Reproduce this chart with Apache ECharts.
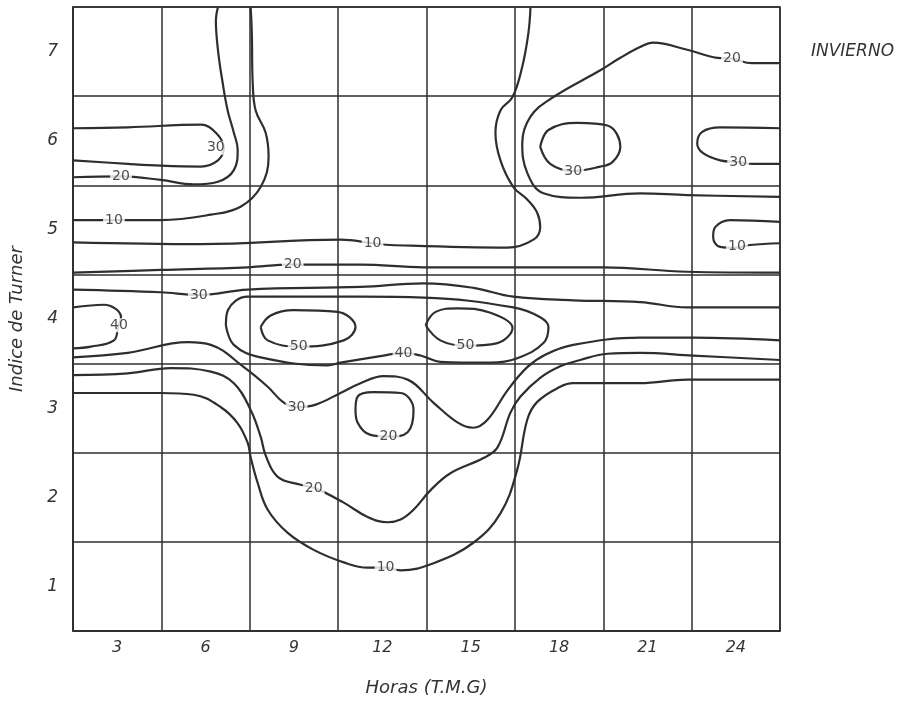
<!DOCTYPE html>
<html>
<head>
  <meta charset="utf-8">
  <script src="https://cdn.jsdelivr.net/npm/echarts/dist/echarts.min.js"></script>
</head>
<body style="margin:0;background:#fff;">
  <div id="main" style="width:921px;height:703px;"></div>
  <script type="text/javascript">
    // tick labels
    var hourLabels = ['3', '6', '9', '12', '15', '18', '21', '24'];
    var turnerLabels = ['1', '2', '3', '4', '5', '6', '7'];

    // isolines: [hour, turner index]
    var iso30TopLeft = [[1.5,6.14],[3.36,6.15],[5.84,6.18],[6.35,6.09],[6.62,5.92],[6.42,5.78],[5.84,5.71],[4.48,5.72],[3.36,5.74],[1.5,5.78]];
    var iso20TopLeft = [[1.5,5.59],[3.13,5.60],[4.48,5.56],[5.60,5.51],[6.42,5.54],[6.96,5.67],[7.09,5.90],[6.96,6.09],[6.75,6.34],[6.58,6.65],[6.42,7.02],[6.35,7.35],[6.42,7.5]];
    var iso10TopLeft = [[1.5,5.11],[2.89,5.11],[4.48,5.11],[6.18,5.17],[7.19,5.26],[7.87,5.48],[8.14,5.82],[8.04,6.09],[7.70,6.34],[7.60,6.65],[7.57,7.21],[7.53,7.5]];
    var iso10Long = [[1.5,4.86],[5.84,4.84],[10.58,4.89],[11.70,4.85],[12.28,4.83],[16.25,4.80],[17.13,4.89],[17.36,5.03],[17.26,5.19],[16.92,5.34],[16.45,5.48],[16.01,5.78],[15.84,6.09],[16.01,6.34],[16.42,6.49],[16.75,6.83],[16.96,7.21],[17.03,7.5]];
    var iso20TopRight = [[25.5,6.87],[24.55,6.87],[23.87,6.92],[23.37,6.93],[22.35,7.02],[21.19,7.10],[20.75,7.05],[20.08,6.93],[19.40,6.79],[17.81,6.49],[17.03,6.27],[16.75,5.97],[16.92,5.64],[17.47,5.41],[18.72,5.36],[20.75,5.41],[22.35,5.39],[25.5,5.37]];
    var iso30Ring18 = [[17.36,5.93],[17.64,6.12],[18.62,6.20],[19.64,6.17],[20.08,5.93],[19.81,5.76],[19.40,5.71],[18.48,5.66],[17.70,5.74],[17.36,5.93]];
    var iso30Right = [[25.5,6.14],[23.47,6.15],[22.86,6.10],[22.69,5.97],[22.89,5.86],[23.47,5.78],[24.08,5.76],[24.58,5.74],[25.5,5.74]];
    var iso10Right = [[25.5,5.09],[23.81,5.11],[23.30,5.03],[23.23,4.92],[23.47,4.81],[24.04,4.80],[24.48,4.83],[25.5,4.85]];
    var iso20Mid = [[1.5,4.52],[4.48,4.55],[7.43,4.58],[8.89,4.61],[11.26,4.61],[13.40,4.58],[16.45,4.58],[19.50,4.58],[22.35,4.53],[25.5,4.52]];
    var iso30Upper = [[1.5,4.33],[4.48,4.30],[5.74,4.27],[7.43,4.33],[11.26,4.36],[13.40,4.40],[15.09,4.35],[16.45,4.25],[18.48,4.21],[20.75,4.19],[22.35,4.13],[25.5,4.13]];
    var iso40Left = [[1.5,4.13],[2.55,4.16],[3.13,4.02],[3.03,3.91],[2.89,3.76],[2.11,3.69],[1.5,3.67]];
    var iso40Ring = [[6.69,3.93],[6.76,4.10],[7.43,4.25],[11.26,4.25],[13.40,4.24],[16.45,4.13],[17.36,4.02],[17.64,3.91],[17.47,3.73],[16.58,3.56],[15.67,3.51],[13.97,3.52],[13.30,3.59],[12.72,3.62],[12.04,3.59],[10.58,3.51],[10.14,3.48],[7.87,3.57],[6.96,3.71],[6.69,3.93]];
    var iso50West = [[7.87,3.91],[8.21,4.04],[8.99,4.10],[10.48,4.08],[11.09,3.91],[10.69,3.76],[9.16,3.69],[8.11,3.76],[7.87,3.91]];
    var iso50East = [[13.47,3.93],[13.81,4.08],[14.55,4.12],[15.67,4.07],[16.42,3.90],[15.91,3.73],[14.82,3.70],[13.97,3.76],[13.47,3.93]];
    var iso30Lower = [[1.5,3.57],[3.36,3.62],[5.40,3.74],[6.18,3.71],[7.30,3.46],[8.11,3.24],[8.62,3.07],[9.06,3.01],[9.74,3.04],[10.58,3.17],[11.26,3.28],[12.04,3.36],[12.86,3.32],[13.74,3.06],[14.55,2.84],[15.09,2.78],[15.57,2.87],[16.25,3.20],[16.92,3.46],[17.53,3.60],[18.48,3.71],[20.75,3.79],[22.55,3.79],[25.5,3.76]];
    var iso20Ring12 = [[11.09,2.98],[11.16,3.13],[11.70,3.18],[12.62,3.17],[13.06,2.98],[12.86,2.73],[12.21,2.68],[11.60,2.70],[11.16,2.84],[11.09,2.98]];
    var iso20Lower = [[1.5,3.37],[3.36,3.39],[4.82,3.45],[6.18,3.41],[6.96,3.28],[7.53,2.98],[7.87,2.68],[8.04,2.47],[8.45,2.23],[9.23,2.14],[9.74,2.10],[10.69,1.94],[11.50,1.78],[12.18,1.72],[12.62,1.75],[13.06,1.86],[13.64,2.08],[14.31,2.27],[15.43,2.44],[15.91,2.56],[16.35,2.95],[16.69,3.13],[17.36,3.34],[18.04,3.47],[18.72,3.54],[19.64,3.61],[20.75,3.62],[22.55,3.59],[25.5,3.54]];
    var iso10Lower = [[1.5,3.17],[4.48,3.17],[5.60,3.15],[6.52,3.01],[7.09,2.83],[7.43,2.61],[7.53,2.45],[7.77,2.16],[8.11,1.86],[8.79,1.60],[9.67,1.41],[10.69,1.27],[11.50,1.21],[12.11,1.21],[12.62,1.18],[13.74,1.26],[15.09,1.49],[16.01,1.82],[16.58,2.31],[16.92,2.87],[17.26,3.07],[18.04,3.24],[18.48,3.28],[20.75,3.28],[22.35,3.32],[25.5,3.32]];

    // contour labels: [hour, turner index, text]
    var contourLabels = [
      [6.35,5.92,'30'], [3.13,5.60,'20'], [2.89,5.11,'10'], [11.67,4.85,'10'],
      [23.87,6.92,'20'], [18.48,5.66,'30'], [24.08,5.76,'30'], [24.04,4.81,'10'],
      [8.96,4.61,'20'], [5.77,4.27,'30'], [3.06,3.93,'40'], [12.72,3.62,'40'],
      [9.16,3.69,'50'], [14.82,3.70,'50'], [9.09,3.01,'30'], [12.21,2.68,'20'],
      [9.67,2.10,'20'], [12.11,1.21,'10']
    ];

    var isolines = [iso30TopLeft, iso20TopLeft, iso10TopLeft, iso10Long, iso20TopRight,
      iso30Ring18, iso30Right, iso10Right, iso20Mid, iso30Upper, iso40Left, iso40Ring,
      iso50West, iso50East, iso30Lower, iso20Ring12, iso20Lower, iso10Lower];

    var ink = '#2e2e2e';
    var font = 'DejaVu Sans';

    var myChart = echarts.init(document.getElementById('main'));

    var series = isolines.map(function (pts) {
      return {
        type: 'line',
        xAxisIndex: 1,
        yAxisIndex: 1,
        data: pts,
        smooth: 0.4,
        symbol: 'none',
        silent: true,
        z: 3,
        lineStyle: { color: ink, width: 2.2 }
      };
    });
    series.push({
      type: 'scatter',
      xAxisIndex: 1,
      yAxisIndex: 1,
      data: contourLabels,
      symbolSize: 0,
      silent: true,
      z: 5,
      itemStyle: { color: 'rgba(0,0,0,0)' },
      label: {
        show: true,
        position: 'inside',
        formatter: function (p) { return p.value[2]; },
        backgroundColor: '#fff',
        padding: [0, 2],
        fontSize: 14,
        fontFamily: font,
        color: '#222'
      }
    });

    var option = {
      animation: false,
      backgroundColor: '#fff',
      title: {
        text: 'INVIERNO',
        left: 806,
        top: 38,
        textStyle: { fontSize: 17, fontStyle: 'italic', fontWeight: 'normal', fontFamily: font, color: '#333' }
      },
      grid: {
        left: 72, right: 141, top: 7, bottom: 72,
        show: true, borderColor: ink, borderWidth: 1.5
      },
      xAxis: [
        {
          type: 'category',
          data: hourLabels,
          boundaryGap: true,
          axisTick: { show: false },
          axisLine: { lineStyle: { color: ink, width: 1.5 } },
          splitLine: { show: true, interval: 0, lineStyle: { color: ink, width: 1.5 } },
          axisLabel: { margin: 9, fontSize: 16, fontStyle: 'italic', fontFamily: font, color: '#333' },
          name: 'Horas (T.M.G)',
          nameLocation: 'middle',
          nameGap: 48,
          nameTextStyle: { fontSize: 18, fontStyle: 'italic', fontFamily: font, color: '#333' }
        },
        { type: 'value', min: 1.5, max: 25.5, show: false }
      ],
      yAxis: [
        {
          type: 'category',
          data: turnerLabels,
          boundaryGap: true,
          axisTick: { show: false },
          axisLine: { lineStyle: { color: ink, width: 1.5 } },
          splitLine: { show: true, interval: 0, lineStyle: { color: ink, width: 1.5 } },
          axisLabel: { margin: 15, fontSize: 17, fontStyle: 'italic', fontFamily: font, color: '#333' },
          name: 'Indice de Turner',
          nameLocation: 'middle',
          nameGap: 47,
          nameTextStyle: { fontSize: 18, fontStyle: 'italic', fontFamily: font, color: '#333' }
        },
        { type: 'value', min: 0.5, max: 7.5, show: false }
      ],
      series: series
    };

    myChart.setOption(option);
  </script>
</body>
</html>
